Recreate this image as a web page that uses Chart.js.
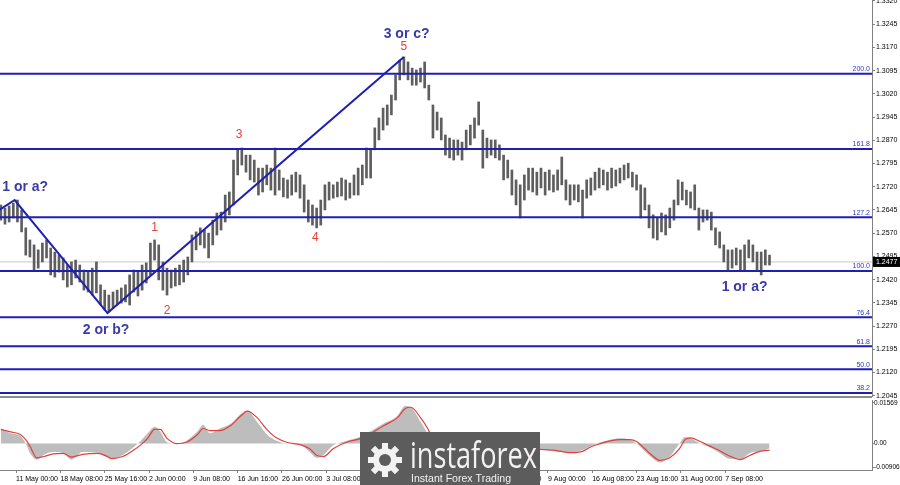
<!DOCTYPE html>
<html>
<head>
<meta charset="utf-8">
<script src="https://cdn.jsdelivr.net/npm/chart.js@4.4.0/dist/chart.umd.min.js"></script>
<style>
  body { margin: 0; background: #fff; }
  #wrap { position: relative; width: 900px; height: 485px; overflow: hidden; background: #fff; }
  canvas { position: absolute; left: 0; }
  #priceChart { top: 0; }
  #macdChart { top: 396px; }
</style>
</head>
<body>
<div id="wrap">
  <canvas id="priceChart" width="900" height="400"></canvas>
  <canvas id="macdChart" width="900" height="89"></canvas>
</div>
<script>
// GBP/USD H4, one sample = 3 H4 bars (high / low of the group)
const barsPerSample = 3;

const highs = [
  1.2661, 1.2651, 1.2658, 1.2667, 1.2677, 1.2645, 1.2587, 1.2548, 1.2532, 1.2516,
  1.2538, 1.2548, 1.2522, 1.2509, 1.2499, 1.2490, 1.2467, 1.2477, 1.2483, 1.2467,
  1.2451, 1.2444, 1.2457, 1.2477, 1.2403, 1.2386, 1.2370, 1.2380, 1.2386, 1.2393,
  1.2403, 1.2435, 1.2451, 1.2444, 1.2467, 1.2474, 1.2538, 1.2548, 1.2532, 1.2477,
  1.2457, 1.2451, 1.2457, 1.2467, 1.2483, 1.2493, 1.2564, 1.2574, 1.2587, 1.2580,
  1.2570, 1.2612, 1.2635, 1.2638, 1.2693, 1.2703, 1.2806, 1.2839, 1.2845, 1.2822,
  1.2822, 1.2806, 1.2780, 1.2780, 1.2790, 1.2780, 1.2845, 1.2774, 1.2748, 1.2742,
  1.2758, 1.2767, 1.2758, 1.2726, 1.2677, 1.2661, 1.2651, 1.2677, 1.2726, 1.2735,
  1.2726, 1.2735, 1.2748, 1.2742, 1.2732, 1.2758, 1.2780, 1.2790, 1.2845, 1.2839,
  1.2910, 1.2942, 1.2974, 1.2984, 1.3016, 1.3081, 1.3129, 1.3139, 1.3123, 1.3103,
  1.3097, 1.3103, 1.3123, 1.3048, 1.2984, 1.2961, 1.2942, 1.2887, 1.2877, 1.2871,
  1.2871, 1.2864, 1.2903, 1.2919, 1.2942, 1.2994, 1.2903, 1.2877, 1.2871, 1.2871,
  1.2855, 1.2822, 1.2806, 1.2774, 1.2742, 1.2726, 1.2758, 1.2780, 1.2780, 1.2767,
  1.2780, 1.2767, 1.2774, 1.2758, 1.2774, 1.2816, 1.2742, 1.2726, 1.2726, 1.2726,
  1.2709, 1.2742, 1.2748, 1.2767, 1.2780, 1.2774, 1.2767, 1.2780, 1.2774, 1.2780,
  1.2790, 1.2796, 1.2767, 1.2758, 1.2726, 1.2716, 1.2661, 1.2629, 1.2619, 1.2635,
  1.2629, 1.2651, 1.2677, 1.2742, 1.2735, 1.2709, 1.2703, 1.2726, 1.2651, 1.2645,
  1.2645, 1.2638, 1.2587, 1.2574, 1.2532, 1.2516, 1.2516, 1.2522, 1.2516, 1.2532,
  1.2548, 1.2532, 1.2509, 1.2509, 1.2516, 1.2499
];
const lows = [
  1.2612, 1.2599, 1.2606, 1.2619, 1.2606, 1.2574, 1.2499, 1.2493, 1.2451, 1.2457,
  1.2477, 1.2490, 1.2435, 1.2428, 1.2444, 1.2419, 1.2396, 1.2403, 1.2425, 1.2412,
  1.2386, 1.2380, 1.2370, 1.2377, 1.2338, 1.2322, 1.2315, 1.2328, 1.2338, 1.2344,
  1.2348, 1.2338, 1.2380, 1.2367, 1.2386, 1.2409, 1.2435, 1.2483, 1.2419, 1.2386,
  1.2370, 1.2393, 1.2399, 1.2403, 1.2412, 1.2435, 1.2477, 1.2516, 1.2532, 1.2522,
  1.2490, 1.2532, 1.2564, 1.2580, 1.2606, 1.2629, 1.2661, 1.2758, 1.2790, 1.2767,
  1.2742, 1.2735, 1.2693, 1.2703, 1.2726, 1.2709, 1.2693, 1.2709, 1.2687, 1.2683,
  1.2693, 1.2703, 1.2683, 1.2638, 1.2606, 1.2596, 1.2587, 1.2596, 1.2645, 1.2677,
  1.2683, 1.2687, 1.2690, 1.2677, 1.2683, 1.2693, 1.2693, 1.2726, 1.2748, 1.2748,
  1.2839, 1.2871, 1.2903, 1.2919, 1.2952, 1.3000, 1.3065, 1.3081, 1.3065, 1.3048,
  1.3048, 1.3058, 1.3039, 1.3000, 1.2877, 1.2903, 1.2871, 1.2822, 1.2813, 1.2806,
  1.2822, 1.2806, 1.2839, 1.2855, 1.2877, 1.2919, 1.2780, 1.2813, 1.2822, 1.2813,
  1.2806, 1.2742, 1.2748, 1.2693, 1.2661, 1.2619, 1.2677, 1.2709, 1.2703, 1.2693,
  1.2716, 1.2693, 1.2709, 1.2703, 1.2709, 1.2726, 1.2677, 1.2661, 1.2677, 1.2671,
  1.2619, 1.2683, 1.2693, 1.2709, 1.2716, 1.2726, 1.2709, 1.2716, 1.2722, 1.2732,
  1.2742, 1.2748, 1.2719, 1.2709, 1.2619, 1.2645, 1.2587, 1.2554, 1.2548, 1.2574,
  1.2564, 1.2587, 1.2612, 1.2661, 1.2677, 1.2661, 1.2651, 1.2645, 1.2580, 1.2606,
  1.2612, 1.2580, 1.2532, 1.2522, 1.2477, 1.2451, 1.2457, 1.2467, 1.2451, 1.2451,
  1.2490, 1.2477, 1.2451, 1.2435, 1.2467, 1.2467
];
const lastPrice = 1.2477;

// fibonacci levels
const fibLevels = [1.3085, 1.2842, 1.2621, 1.2448, 1.2298, 1.2205, 1.2130, 1.2054];
const fibNames = ['200.0', '161.8', '127.2', '100.0', '76.4', '61.8', '50.0', '38.2'];

// wave markup (bar index, price)
const waveBars = [-1, 10, 77, 291];
const wavePrices = [1.2645, 1.2677, 1.2312, 1.3139];
const waveLabels = ['1 or a?', '2 or b?', '3 or c?', '1 or a?'];
const waveLabelBars = [1, 76, 293, 537];
const waveLabelPrices = [1.2719, 1.2257, 1.3213, 1.2396];
const countLabels = ['1', '2', '3', '4', '5'];
const countBars = [111, 120, 172, 227, 291];
const countPrices = [1.2587, 1.2319, 1.2887, 1.2554, 1.3171];

// axes
const priceTicks = [1.2045, 1.2120, 1.2195, 1.2270, 1.2345, 1.2420, 1.2495, 1.2570, 1.2645,
  1.2720, 1.2795, 1.2870, 1.2945, 1.3020, 1.3095, 1.3170, 1.3245, 1.3320];
const timeLabels = ['11 May 00:00', '18 May 08:00', '25 May 16:00', '2 Jun 00:00', '9 Jun 08:00',
  '16 Jun 16:00', '26 Jun 00:00', '3 Jul 08:00', '10 Jul 16:00', '18 Jul 00:00', '25 Jul 08:00',
  '1 Aug 16:00', '9 Aug 00:00', '16 Aug 08:00', '23 Aug 16:00', '31 Aug 00:00', '7 Sep 08:00'];
const firstLabelBar = 11;
const barsPerLabel = 32;

// MACD (bar index, main, signal)
const macdBars = [0, 7, 14, 18, 21, 26, 31, 38, 45, 51, 59, 70, 77, 80, 88, 96, 101, 106, 111, 115,
  120, 127, 134, 142, 146, 151, 158, 166, 173, 178, 185, 192, 199, 207, 216, 223, 228, 233, 240, 250,
  259, 267, 276, 286, 292, 296, 303, 308, 310, 321, 335, 344, 360, 375, 389, 400, 411, 420, 425, 433,
  440, 447, 454, 459, 465, 469, 476, 483, 490, 494, 498, 505, 512, 517, 527, 534, 541, 548, 555];
const macdMain = [0.0058, 0.0040, 0.0030, 0.0000, -0.0036, -0.0062, -0.0044, -0.0033, -0.0036, -0.0062,
  -0.0033, -0.0035, -0.0055, -0.0060, -0.0044, -0.0013, 0.0011, 0.0040, 0.0065, 0.0047,
  0.0005, 0.0000, 0.0011, 0.0047, 0.0073, 0.0040, 0.0058, 0.0076, 0.0113, 0.0127,
  0.0084, 0.0036, 0.0011, 0.0000, -0.0004, -0.0033, -0.0055, -0.0044, -0.0007, 0.0011,
  0.0025, 0.0047, 0.0076, 0.0105, 0.0145, 0.0140, 0.0084, 0.0036, 0.0000, -0.0040,
  -0.0030, 0.0003, -0.0010, -0.0020, -0.0025, -0.0030, -0.0035, -0.0025, -0.0012, 0.0005,
  0.0015, 0.0020, 0.0015, 0.0000, -0.0030, -0.0050, -0.0073, -0.0050, 0.0000, 0.0025,
  0.0020, 0.0000, -0.0015, -0.0030, -0.0060, -0.0060, -0.0036, -0.0030, -0.0018];
const macdSignal = [0.0055, 0.0045, 0.0035, 0.0015, -0.0010, -0.0055, -0.0050, -0.0040, -0.0038, -0.0052,
  -0.0042, -0.0038, -0.0050, -0.0058, -0.0050, -0.0025, -0.0005, 0.0020, 0.0055, 0.0055,
  0.0020, 0.0000, 0.0005, 0.0035, 0.0058, 0.0050, 0.0050, 0.0070, 0.0105, 0.0125,
  0.0100, 0.0055, 0.0022, 0.0004, -0.0004, -0.0020, -0.0045, -0.0050, -0.0020, 0.0006,
  0.0018, 0.0038, 0.0068, 0.0098, 0.0135, 0.0140, 0.0100, 0.0060, 0.0040, -0.0010,
  -0.0030, -0.0010, -0.0012, -0.0018, -0.0022, -0.0026, -0.0035, -0.0030, -0.0015, 0.0000,
  0.0010, 0.0015, 0.0015, 0.0008, -0.0020, -0.0040, -0.0065, -0.0055, -0.0020, 0.0015,
  0.0022, 0.0008, -0.0010, -0.0022, -0.0050, -0.0062, -0.0045, -0.0030, -0.0025];
// labelled extremes of the MACD window, and the window bounds
const macdTicks = [0.01569, 0, -0.00906];
const macdTop = 0.0168;
const macdBottom = -0.0102;

const xMin = -0.6;
const xMax = 629;
const priceMin = 1.2044;
const priceMax = 1.3323;

const blue = '#1f1fb4';
const tickFont = { family: 'Liberation Sans', size: 7 };

function noPad(s) {
  s.paddingTop = 0; s.paddingBottom = 0; s.paddingLeft = 0; s.paddingRight = 0;
}

const candleData = highs.map((h, i) => ({ x: i * barsPerSample, y: [lows[i], h] }));

const priceDatasets = fibLevels.map(lv => ({
  type: 'line',
  data: [{ x: xMin, y: lv }, { x: xMax, y: lv }],
  borderColor: blue, borderWidth: 2, pointRadius: 0, order: 1
}));
priceDatasets.push({
  type: 'line',
  data: [{ x: xMin, y: lastPrice }, { x: xMax, y: lastPrice }],
  borderColor: '#c8c8c8', borderWidth: 1, pointRadius: 0, order: 4
});
priceDatasets.push({
  type: 'bar', data: candleData, backgroundColor: '#5e5e5e', barThickness: 2, order: 2
});
priceDatasets.push({
  type: 'line',
  data: waveBars.map((b, i) => ({ x: b, y: wavePrices[i] })),
  borderColor: blue, borderWidth: 2, pointRadius: 0, order: 0
});

const priceMarkup = {
  id: 'priceMarkup',
  afterDraw(chart) {
    const ctx = chart.ctx;
    const xs = chart.scales.x, ys = chart.scales.y;
    const area = chart.chartArea;
    ctx.save();
    // pane separator
    ctx.strokeStyle = '#8c8c8c';
    ctx.lineWidth = 2;
    ctx.beginPath();
    ctx.moveTo(0, area.bottom + 1);
    ctx.lineTo(area.right, area.bottom + 1);
    ctx.stroke();
    // fib names
    ctx.font = '7px "Liberation Sans"';
    ctx.fillStyle = '#3434d0';
    ctx.textAlign = 'right';
    ctx.textBaseline = 'bottom';
    fibLevels.forEach((lv, i) => {
      ctx.fillText(fibNames[i], area.right - 2, ys.getPixelForValue(lv) - 1);
    });
    // wave labels
    ctx.font = 'bold 14px "Liberation Sans"';
    ctx.fillStyle = '#3a3aa8';
    ctx.textBaseline = 'middle';
    waveLabels.forEach((t, i) => {
      ctx.textAlign = i === 0 ? 'left' : 'center';
      ctx.fillText(t, xs.getPixelForValue(waveLabelBars[i]), ys.getPixelForValue(waveLabelPrices[i]));
    });
    // wave counts
    ctx.font = '12px "Liberation Sans"';
    ctx.fillStyle = '#e8403a';
    ctx.textAlign = 'center';
    countLabels.forEach((t, i) => {
      ctx.fillText(t, xs.getPixelForValue(countBars[i]), ys.getPixelForValue(countPrices[i]));
    });
    // last price tag
    const py = ys.getPixelForValue(lastPrice);
    ctx.fillStyle = '#000';
    ctx.fillRect(area.right + 1, py - 5, 900 - area.right, 10);
    ctx.fillStyle = '#fff';
    ctx.font = '7px "Liberation Sans"';
    ctx.textAlign = 'left';
    ctx.fillText(lastPrice.toFixed(4), area.right + 4, py);
    ctx.restore();
  }
};

new Chart(document.getElementById('priceChart'), {
  type: 'bar',
  data: { datasets: priceDatasets },
  options: {
    responsive: false,
    animation: false,
    devicePixelRatio: 1,
    layout: { padding: { top: 0, bottom: 4, left: 0, right: 0 } },
    plugins: { legend: { display: false }, tooltip: { enabled: false } },
    scales: {
      x: { type: 'linear', display: false, min: xMin, max: xMax, offset: false, grid: { offset: false } },
      y: {
        position: 'right', min: priceMin, max: priceMax,
        afterBuildTicks(s) { s.ticks = priceTicks.map(v => ({ value: v })); },
        afterFit(s) { s.width = 28; noPad(s); },
        ticks: { callback: v => v.toFixed(4), font: tickFont, color: '#000', padding: 1 },
        grid: { drawOnChartArea: false, tickLength: 3, color: '#808080' },
        border: { color: '#808080' }
      }
    }
  },
  plugins: [priceMarkup]
});

const watermark = {
  id: 'watermark',
  afterDraw(chart) {
    const ctx = chart.ctx;
    ctx.save();
    ctx.fillStyle = '#5c5c5c';
    ctx.fillRect(360, 36, 180, 53);
    // gear
    const cx = 385, cy = 64;
    ctx.fillStyle = '#f2f2f2';
    for (let a = 0; a < 8; a++) {
      ctx.save();
      ctx.translate(cx, cy);
      ctx.rotate(a * Math.PI / 4);
      ctx.fillRect(-3, -17, 6, 8);
      ctx.restore();
    }
    ctx.beginPath();
    ctx.arc(cx, cy, 12, 0, Math.PI * 2);
    ctx.fill();
    ctx.fillStyle = '#5c5c5c';
    ctx.beginPath();
    ctx.arc(cx, cy, 6, 0, Math.PI * 2);
    ctx.fill();
    ctx.fillStyle = '#f2f2f2';
    ctx.textAlign = 'left';
    ctx.textBaseline = 'alphabetic';
    ctx.font = '36px "Open Sans"';
    ctx.fillText('instaforex', 410, 72, 127);
    ctx.font = '11px "Liberation Sans"';
    ctx.fillText('Instant Forex Trading', 411, 86, 100);
    ctx.restore();
  }
};

new Chart(document.getElementById('macdChart'), {
  type: 'line',
  data: {
    datasets: [
      {
        data: macdBars.map((b, i) => ({ x: b, y: macdMain[i] })),
        borderWidth: 0, borderColor: 'rgba(0,0,0,0)', backgroundColor: '#bdbdbd',
        fill: 'origin', pointRadius: 0, cubicInterpolationMode: 'monotone', order: 2
      },
      {
        data: macdBars.map((b, i) => ({ x: b, y: macdSignal[i] })),
        borderWidth: 1.2, borderColor: '#e0403c', fill: false,
        pointRadius: 0, cubicInterpolationMode: 'monotone', order: 1
      }
    ]
  },
  options: {
    responsive: false,
    animation: false,
    devicePixelRatio: 1,
    layout: { padding: { top: 4, bottom: 0, left: 0, right: 0 } },
    plugins: { legend: { display: false }, tooltip: { enabled: false } },
    scales: {
      x: {
        type: 'linear', min: xMin, max: xMax, offset: false,
        afterBuildTicks(s) {
          s.ticks = timeLabels.map((t, i) => ({ value: firstLabelBar + i * barsPerLabel }));
        },
        afterFit(s) { s.height = 15; noPad(s); },
        ticks: {
          callback: (v, i) => timeLabels[i], autoSkip: false, maxRotation: 0, minRotation: 0,
          align: 'start', font: tickFont, color: '#000', padding: 2
        },
        grid: { drawOnChartArea: false, tickLength: 3, color: '#808080' },
        border: { color: '#808080' }
      },
      y: {
        position: 'right', min: macdBottom, max: macdTop,
        afterBuildTicks(s) { s.ticks = macdTicks.map(v => ({ value: v })); },
        afterFit(s) { s.width = 28; noPad(s); },
        ticks: {
          callback: v => (v === 0 ? '0.00' : v.toFixed(5)),
          font: { family: 'Liberation Sans', size: 6.5 }, color: '#000', padding: 0
        },
        grid: { drawOnChartArea: false, tickLength: 2, color: '#808080' },
        border: { color: '#808080' }
      }
    }
  },
  plugins: [watermark]
});
</script>
</body>
</html>
